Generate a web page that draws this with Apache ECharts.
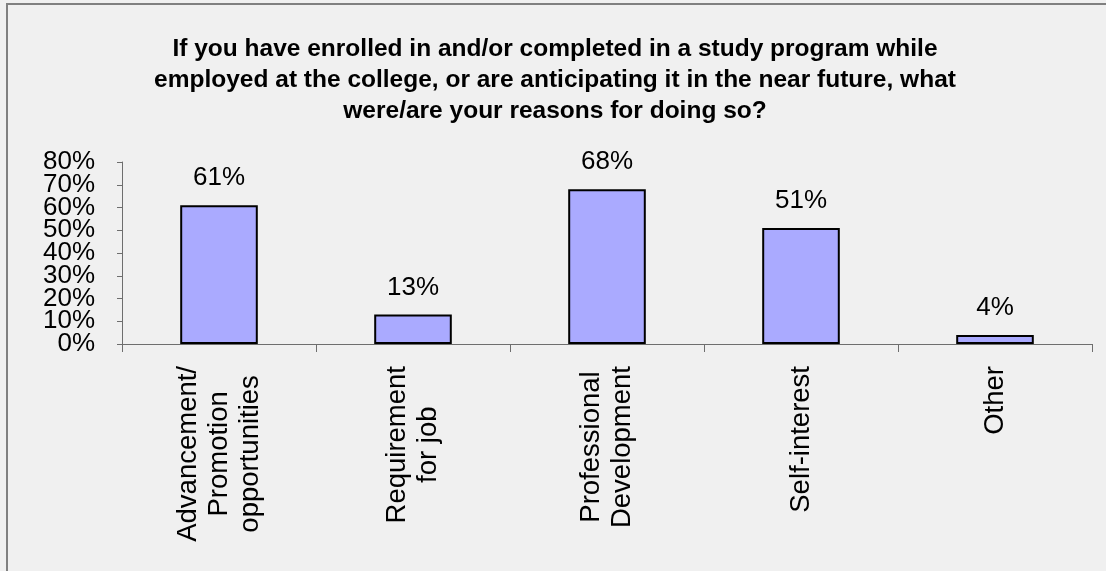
<!DOCTYPE html>
<html>
<head>
<meta charset="utf-8">
<style>
  html, body { margin: 0; padding: 0; background: #f0f0f0; }
  #chart { width: 1106px; height: 571px; }
</style>
<script src="https://cdn.jsdelivr.net/npm/echarts@6/dist/echarts.min.js"></script>
</head>
<body>
<div id="chart"></div>
<script>
// Survey question and answers
const titleText = 'If you have enrolled in and/or completed in a study program while\nemployed at the college, or are anticipating it in the near future, what\nwere/are your reasons for doing so?';
const categories = [
  'Advancement/\nPromotion\nopportunities',
  'Requirement\nfor job',
  'Professional\nDevelopment',
  'Self-interest',
  'Other'
];
const shares = [0.61, 0.13, 0.68, 0.51, 0.04];
const yTicks = { min: 0, max: 0.8, step: 0.1 };

const FONT = '"Liberation Sans", Arial, sans-serif';
const chart = echarts.init(document.getElementById('chart'), null, { renderer: 'canvas' });

const pct = function (v) { return Math.round(v * 100) + '%'; };
// The tick labels are packed tightly, so they are split over two
// coincident value axes (even and odd steps) to keep all of them visible.
const stepIndex = function (v) { return Math.round((v - yTicks.min) / yTicks.step); };
const labelAxis = function (parity, visibleLine) {
  return {
    type: 'value',
    position: 'left',
    offset: 0,
    min: yTicks.min,
    max: yTicks.max,
    interval: yTicks.step,
    splitLine: { show: false },
    axisLine: { show: visibleLine, lineStyle: { color: '#6e6e6e', width: 1 } },
    axisTick: { show: visibleLine, length: 5, lineStyle: { color: '#6e6e6e' } },
    axisLabel: {
      margin: 27,
      fontFamily: FONT,
      fontSize: 26,
      color: '#000',
      showMinLabel: true,
      showMaxLabel: true,
      formatter: function (v) { return stepIndex(v) % 2 === parity ? pct(v) : ''; }
    }
  };
};

chart.setOption({
  backgroundColor: '#f0f0f0',
  animation: false,
  title: {
    text: titleText,
    left: 550,
    top: 29,
    textAlign: 'center',
    textStyle: {
      fontFamily: FONT,
      fontSize: 24.5,
      fontWeight: 'bold',
      color: '#000',
      lineHeight: 31
    }
  },
  graphic: [
    { type: 'line', shape: { x1: 7, y1: 3, x2: 7, y2: 571 }, style: { stroke: '#808080', lineWidth: 2 } },
    { type: 'line', shape: { x1: 6, y1: 4, x2: 1106, y2: 4 }, style: { stroke: '#808080', lineWidth: 2 } }
  ],
  grid: { left: 122, top: 162, width: 970, height: 182, containLabel: false },
  xAxis: {
    type: 'category',
    data: categories,
    boundaryGap: true,
    axisLine: { lineStyle: { color: '#6e6e6e', width: 1 } },
    axisTick: { show: true, interval: 0, length: 8, lineStyle: { color: '#6e6e6e' } },
    axisLabel: {
      interval: 0,
      rotate: 90,
      margin: 22,
      fontFamily: FONT,
      fontSize: 27.5,
      color: '#000',
      formatter: function (v) {
        return v.split('\n').map(function (s) { return '{c|' + s + '}'; }).join('\n');
      },
      rich: {
        c: { align: 'center', fontFamily: FONT, fontSize: 27.5, lineHeight: 31, color: '#000' }
      }
    }
  },
  yAxis: [labelAxis(0, true), labelAxis(1, false)],
  series: [{
    type: 'bar',
    yAxisIndex: 0,
    data: shares,
    barWidth: '40%',
    itemStyle: { color: '#aaaaff', borderColor: '#000', borderWidth: 2 },
    label: {
      show: true,
      position: 'top',
      distance: 14,
      fontFamily: FONT,
      fontSize: 26,
      color: '#000',
      formatter: function (p) { return pct(p.value); }
    }
  }]
});
</script>
</body>
</html>
